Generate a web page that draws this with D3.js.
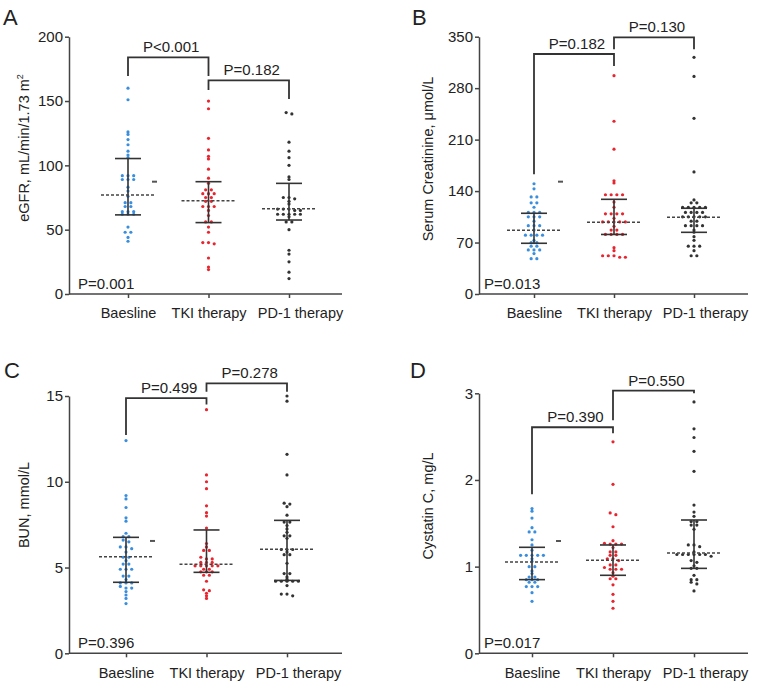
<!DOCTYPE html>
<html><head><meta charset="utf-8">
<script src="https://cdn.jsdelivr.net/npm/d3@7"></script>
<style>
body{margin:0;background:#fff}
svg{display:block}
text{font-family:"Liberation Sans",Arial,Helvetica,sans-serif;fill:#222}
</style>
</head><body>
<svg id="chart" width="776" height="685"></svg>
<script>
// ---------- DATA ----------
const categories = ["Baesline", "TKI therapy", "PD-1 therapy"];

// Panel A: eGFR
const egfrBaseline = [160, 151, 126, 124, 120, 116, 111, 108, 106, 92, 92, 92, 89, 89, 89, 83, 80, 76, 71, 71, 68, 68, 64, 64, 64, 62, 62, 62, 52, 48, 48, 44, 41];
const egfrTKI = [150, 144, 121, 112, 107, 105, 97, 90, 86, 81, 81, 78, 78, 78, 75, 75, 72, 72, 68, 68, 68, 65, 61, 56, 56, 52, 48, 40, 40, 39, 28, 21, 19];
const egfrPD1 = [141, 140, 118, 111, 106, 100, 91, 89, 75, 75, 74, 72, 70, 66, 66, 66, 65, 65, 62, 62, 62, 62, 62, 60, 56, 56, 50, 34, 31, 25, 17, 12];
const egfrMedian = [77, 72.5, 66.3];
const egfrQ1 = [61.5, 55.5, 57.5];
const egfrQ3 = [105.3, 87.3, 86];
const egfrMark = 87.3;
const egfrTicks = [0, 50, 100, 150, 200];
const egfrBracketLabels = ["P<0.001", "P=0.182"];
const egfrBracketTop = [184, 166.1];
const egfrBracketLeft = [169.5, 158.6];
const egfrBracketRight = [169.5, 151.6];

// Panel B: Serum creatinine
const scrBaseline = [150, 143, 132, 132, 124, 124, 118, 111, 111, 111, 105, 105, 105, 99, 93, 93, 93, 87, 80, 80, 80, 80, 73, 70, 70, 65, 65, 60, 60, 60, 55, 48, 48];
const scrTKI = [297, 235, 197, 154, 151, 135, 135, 135, 135, 125, 118, 109, 109, 109, 109, 103, 98, 98, 98, 98, 98, 92, 87, 87, 81, 81, 81, 81, 63, 59, 52, 52, 52, 50, 50];
const scrPD1 = [322, 296, 239, 166, 128, 124, 124, 118, 118, 118, 118, 118, 111, 111, 111, 111, 105, 105, 105, 105, 105, 99, 99, 93, 93, 93, 93, 87, 84, 78, 73, 65, 65, 65, 59, 52, 52];
const scrMedian = [86.6, 97.5, 104.3];
const scrQ1 = [69, 81, 83.9];
const scrQ3 = [109.8, 128.8, 116.6];
const scrMark = 152.8;
const scrTicks = [0, 70, 140, 210, 280, 350];
const scrBracketLabels = ["P=0.182", "P=0.130"];
const scrBracketTop = [326.5, 349];
const scrBracketLeft = [163, 333];
const scrBracketRight = [310, 333];

// Panel C: BUN
const bunBaseline = [12.4, 9.2, 9.0, 8.5, 7.9, 7.7, 7.0, 6.8, 6.8, 6.6, 6.5, 6.2, 6.2, 6.1, 5.9, 5.6, 5.6, 5.4, 5.2, 5.2, 4.9, 4.9, 4.9, 4.5, 4.5, 4.3, 4.1, 4.1, 4.1, 3.9, 3.8, 3.8, 3.6, 3.4, 3.2, 2.9];
const bunTKI = [14.2, 10.4, 10.0, 9.6, 8.6, 8.2, 8.0, 7.3, 6.4, 6.2, 6.0, 6.0, 5.6, 5.5, 5.5, 5.3, 5.3, 5.3, 5.1, 5.1, 5.1, 5.1, 5.1, 4.9, 4.9, 4.75, 4.75, 4.75, 4.55, 4.55, 4.2, 3.7, 3.65, 3.5, 3.35, 3.2];
const bunPD1 = [15.0, 14.7, 11.6, 10.4, 8.75, 8.7, 8.55, 8.05, 7.65, 7.65, 7.45, 7.25, 7.05, 6.85, 6.85, 6.7, 6.05, 6.05, 6.05, 5.9, 5.75, 5.75, 5.25, 4.65, 4.65, 4.45, 4.32, 4.2, 4.2, 4.2, 4.2, 4.2, 3.95, 3.45, 3.45, 3.35];
const bunMedian = [5.63, 5.19, 6.06];
const bunQ1 = [4.14, 4.72, 4.25];
const bunQ3 = [6.76, 7.19, 7.75];
const bunMark = 6.55;
const bunTicks = [0, 5, 10, 15];
const bunBracketLabels = ["P=0.499", "P=0.278"];
const bunBracketTop = [14.88, 15.74];
const bunBracketLeft = [12.73, 15.25];
const bunBracketRight = [14.5, 15.25];

// Panel D: Cystatin C
const cysBaseline = [1.67, 1.64, 1.56, 1.45, 1.40, 1.40, 1.31, 1.25, 1.19, 1.13, 1.13, 1.13, 1.13, 1.13, 1.09, 1.06, 1.00, 1.00, 0.95, 0.92, 0.88, 0.88, 0.85, 0.85, 0.85, 0.82, 0.82, 0.77, 0.77, 0.77, 0.70, 0.60];
const cysTKI = [2.44, 1.95, 1.62, 1.60, 1.46, 1.30, 1.27, 1.26, 1.26, 1.26, 1.22, 1.17, 1.17, 1.13, 1.13, 1.09, 1.09, 1.07, 1.02, 1.02, 0.99, 0.97, 0.97, 0.97, 0.93, 0.89, 0.86, 0.86, 0.79, 0.68, 0.60, 0.52];
const cysPD1 = [2.90, 2.59, 2.49, 2.33, 2.10, 1.71, 1.63, 1.58, 1.52, 1.52, 1.48, 1.48, 1.43, 1.25, 1.25, 1.23, 1.17, 1.14, 1.14, 1.14, 1.14, 1.14, 1.14, 1.12, 1.07, 1.05, 1.01, 0.98, 0.98, 0.90, 0.85, 0.85, 0.82, 0.80, 0.72];
const cysMedian = [1.053, 1.073, 1.157];
const cysQ1 = [0.85, 0.90, 0.98];
const cysQ3 = [1.223, 1.25, 1.538];
const cysMark = 1.296;
const cysTicks = [0, 1, 2, 3];
const cysBracketLabels = ["P=0.390", "P=0.550"];
const cysBracketTop = [2.608, 3.03];
const cysBracketLeft = [1.835, 2.69];
const cysBracketRight = [2.54, 3.0];

const panelLetters = ["A", "B", "C", "D"];
const overallP = ["P=0.001", "P=0.013", "P=0.396", "P=0.017"];
const yTitles = ["eGFR, mL/min/1.73 m", "Serum Creatinine, \u03bcmol/L", "BUN, mmol/L", "Cystatin C, mg/L"];
const yTitleSup = ["2", "", "", ""];
const bracketPairs = [[0, 1], [1, 2]];
const seriesColors = ["#3a8ede", "#e8252f", "#333333"];

// ---------- PANELS ----------
const panels = [
  {values:[egfrBaseline, egfrTKI, egfrPD1], median:egfrMedian, q1:egfrQ1, q3:egfrQ3, mark:egfrMark, ticks:egfrTicks,
   brLabels:egfrBracketLabels, brTop:egfrBracketTop, brLeft:egfrBracketLeft, brRight:egfrBracketRight,
   lay:{x0:69, x1:342, y0:294, y1:36.7, c0:128, c2:289, tX:29, tY:148, pX:78, pY:288.7, lX:3, lY:25}},
  {values:[scrBaseline, scrTKI, scrPD1], median:scrMedian, q1:scrQ1, q3:scrQ3, mark:scrMark, ticks:scrTicks,
   brLabels:scrBracketLabels, brTop:scrBracketTop, brLeft:scrBracketLeft, brRight:scrBracketRight,
   lay:{x0:479, x1:748, y0:294, y1:36.7, c0:534, c2:694, tX:433, tY:159, pX:484, pY:288.7, lX:412, lY:25}},
  {values:[bunBaseline, bunTKI, bunPD1], median:bunMedian, q1:bunQ1, q3:bunQ3, mark:bunMark, ticks:bunTicks,
   brLabels:bunBracketLabels, brTop:bunBracketTop, brLeft:bunBracketLeft, brRight:bunBracketRight,
   lay:{x0:69, x1:342, y0:653.3, y1:396, c0:126, c2:287, tX:29, tY:505, pX:78, pY:648.3, lX:4, lY:378}},
  {values:[cysBaseline, cysTKI, cysPD1], median:cysMedian, q1:cysQ1, q3:cysQ3, mark:cysMark, ticks:cysTicks,
   brLabels:cysBracketLabels, brTop:cysBracketTop, brLeft:cysBracketLeft, brRight:cysBracketRight,
   lay:{x0:479, x1:748, y0:653.3, y1:393.3, c0:532, c2:694, tX:433, tY:506, pX:484, pY:648.3, lX:410, lY:378}}
];

const svg = d3.select("#chart");
const axisColor = "#444";
const labelShift = [0, 0, 11];

// simple row-based beeswarm: points within rowTol px share a row, centred
function swarm(vals, y, spacing, rowTol) {
  const pts = vals.map(v => ({v, py: y(v)})).sort((a, b) => a.py - b.py);
  const out = [];
  let row = [];
  const flush = () => {
    const n = row.length;
    row.forEach((p, i) => out.push({v: p.v, py: p.py, dx: (i - (n - 1) / 2) * spacing}));
    row = [];
  };
  pts.forEach(p => {
    if (row.length && p.py - row[0].py > rowTol) flush();
    row.push(p);
  });
  flush();
  return out;
}

panels.forEach((P, pi) => {
  const L = P.lay;
  const max = P.ticks[P.ticks.length - 1];
  const y = d3.scaleLinear().domain([0, max]).range([L.y0, L.y1]);
  const x = d3.scalePoint().domain(categories).range([L.c0, L.c2]);
  const g = svg.append("g");

  // y axis
  const ya = g.append("g").attr("transform", `translate(${L.x0},0)`)
    .call(d3.axisLeft(y).tickValues(P.ticks).tickFormat(d3.format("~g")).tickSize(4).tickSizeOuter(0).tickPadding(2));
  ya.select(".domain").attr("stroke", axisColor).attr("stroke-width", 1.5);
  ya.selectAll(".tick line").attr("stroke", axisColor).attr("stroke-width", 1.5);
  ya.selectAll(".tick text").style("font-size", "15px").attr("fill", "#222");

  // x axis
  const xa = g.append("g").attr("transform", `translate(0,${L.y0})`)
    .call(d3.axisBottom(x).tickSize(4).tickSizeOuter(0).tickPadding(10));
  xa.select(".domain").remove();
  xa.selectAll(".tick line").attr("stroke", axisColor).attr("stroke-width", 1.5);
  xa.selectAll(".tick text").style("font-size", "14.5px").attr("fill", "#222")
    .attr("dx", (d, i) => labelShift[i]);
  g.append("line").attr("x1", L.x0).attr("x2", L.x1).attr("y1", L.y0).attr("y2", L.y0)
    .attr("stroke", axisColor).attr("stroke-width", 1.5);

  // y title
  const t = g.append("text").attr("transform", `translate(${L.tX},${L.tY}) rotate(-90)`)
    .attr("text-anchor", "middle").style("font-size", "14.5px");
  t.append("tspan").text(yTitles[pi]);
  if (yTitleSup[pi]) t.append("tspan").attr("dy", -6).style("font-size", "9px").text(yTitleSup[pi]);

  // panel letter
  g.append("text").attr("x", L.lX).attr("y", L.lY).style("font-size", "22px").text(panelLetters[pi]);

  // overall p
  g.append("text").attr("x", L.pX).attr("y", L.pY).style("font-size", "15px").text(overallP[pi]);

  // dots
  categories.forEach((c, ci) => {
    const cx = x(c);
    const pts = swarm(P.values[ci], y, 5.7, 2);
    g.append("g").selectAll("circle").data(pts).join("circle")
      .attr("cx", d => cx + d.dx).attr("cy", d => d.py).attr("r", 1.6)
      .attr("fill", seriesColors[ci]);

    // IQR bar
    g.append("line").attr("x1", cx).attr("x2", cx).attr("y1", y(P.q1[ci])).attr("y2", y(P.q3[ci]))
      .attr("stroke", "#333").attr("stroke-width", 1.6);
    [P.q1[ci], P.q3[ci]].forEach(v => {
      g.append("line").attr("x1", cx - 13).attr("x2", cx + 13).attr("y1", y(v)).attr("y2", y(v))
        .attr("stroke", "#333").attr("stroke-width", 1.6);
    });
    // median dashed
    g.append("line").attr("x1", cx - 27).attr("x2", cx + 27).attr("y1", y(P.median[ci])).attr("y2", y(P.median[ci]))
      .attr("stroke", "#444").attr("stroke-width", 1.5).attr("stroke-dasharray", "3,2");
  });

  // small mark beside baseline
  const bx = x(categories[0]);
  g.append("line").attr("x1", bx + 24).attr("x2", bx + 29).attr("y1", y(P.mark)).attr("y2", y(P.mark))
    .attr("stroke", "#555").attr("stroke-width", 2);

  // brackets
  bracketPairs.forEach((pair, bi) => {
    const xa1 = x(categories[pair[0]]), xb1 = x(categories[pair[1]]);
    const top = y(P.brTop[bi]);
    g.append("path")
      .attr("d", `M${xa1},${y(P.brLeft[bi])}V${top}H${xb1}V${y(P.brRight[bi])}`)
      .attr("fill", "none").attr("stroke", "#333").attr("stroke-width", 1.8);
    g.append("text").attr("x", (xa1 + xb1) / 2 + 3).attr("y", top - 5)
      .attr("text-anchor", "middle").style("font-size", "15px").text(P.brLabels[bi]);
  });
});
</script>
</body></html>
